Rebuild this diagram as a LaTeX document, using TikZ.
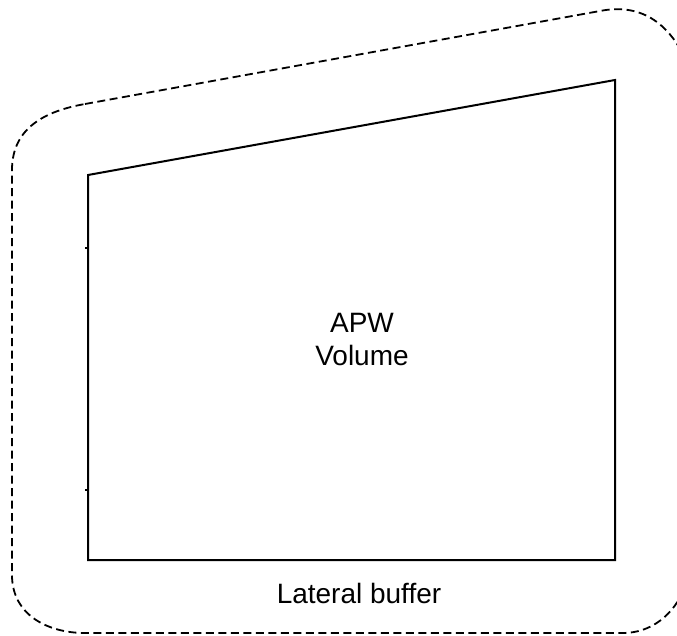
\documentclass[tikz,border=0pt]{standalone}
\usepackage{fontspec}
\setmainfont{Liberation Sans}
\begin{document}
\begin{tikzpicture}[x=1pt,y=-1pt,
  solidline/.style={draw=black,line width=2pt,line join=miter},
  bufferline/.style={draw=black,line width=1.8pt,dash pattern=on 8pt off 4.5pt},
  lbl/.style={font=\fontsize{28}{33}\selectfont,inner sep=0pt,align=center}]
\useasboundingbox (0,0) rectangle (677,635);
% inner APW volume
\coordinate (tl) at (88,175);
\coordinate (tr) at (615,80);
\coordinate (br) at (615,560);
\coordinate (bl) at (88,560);
\draw[solidline] (tl) -- (tr) -- (br) -- (bl) -- cycle;
\draw[line width=1.2pt] (85,248) -- (88,248);
\draw[line width=1.2pt] (85,490) -- (88,490);
% lateral buffer outline
\draw[bufferline] (85,104) -- (600,11)
  .. controls (640,3) and (668,22) .. (686,60)
  -- (686,585)
  .. controls (674,616) and (650,633) .. (623,633)
  -- (85,633)
  .. controls (48,633) and (12,615) .. (12,575)
  -- (12,170)
  .. controls (12,128) and (45,111) .. (85,104);
\node[lbl] (apw) at (362,339.5) {APW\\Volume};
\node[lbl,anchor=base] (buf) at (359,603) {Lateral buffer};
\end{tikzpicture}
\end{document}
